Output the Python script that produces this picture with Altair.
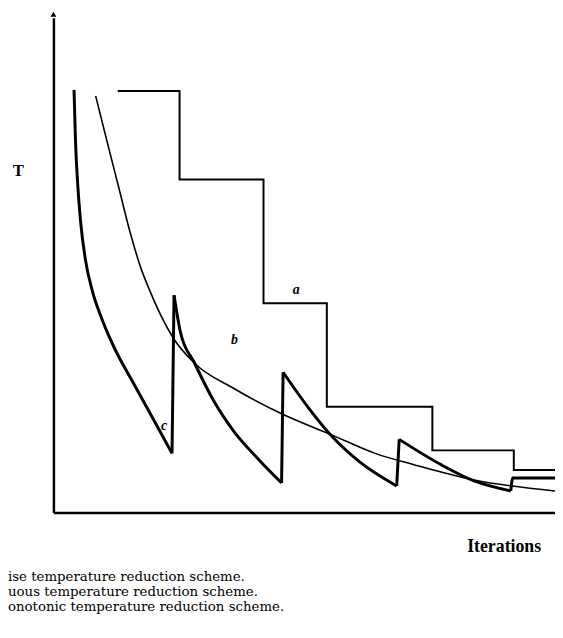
import altair as alt
import pandas as pd

# Curve a: stepwise temperature reduction
a_x = [12.8, 25.1, 41.8, 54.4, 75.4, 91.6, 99.8]
a_y = [84.2, 66.5, 41.8, 21.1, 12.4, 8.5, 8.5]

# Curve b: continuous temperature reduction
b_x = [8.4, 10.6, 13.0, 15.3, 17.3, 19.3, 21.4, 23.8, 28.1, 36.0, 45.4, 55.6, 64.0, 71.9, 83.7, 99.8]
b_y = [83.2, 74.4, 64.9, 55.8, 49.1, 44.0, 39.3, 34.9, 29.8, 24.7, 19.7, 15.4, 11.8, 9.5, 6.5, 4.3]

# Curve c: non-monotonic temperature reduction (segments)
c_x = [4.1, 4.4, 4.8, 5.4, 6.4, 7.7, 9.7, 12.3, 15.6, 19.5, 23.6,
       23.6, 24.0,
       24.0, 25.3, 28.0, 32.0, 35.9, 41.1, 45.4,
       45.4, 45.7,
       45.7, 50.9, 55.5, 60.8, 68.3,
       68.3, 68.8,
       68.8, 77.2, 83.7, 91.0,
       91.0, 91.4, 99.8]
c_y = [84.4, 74.0, 66.1, 58.2, 50.3, 44.4, 38.5, 32.5, 26.4, 19.3, 11.8,
       11.8, 43.4,
       43.4, 35.9, 30.0, 22.1, 16.2, 10.3, 5.9,
       5.9, 28.0,
       28.0, 20.7, 15.1, 10.2, 5.3,
       5.3, 14.6,
       14.6, 9.5, 6.3, 4.3,
       4.3, 6.9, 6.9]
c_seg = [1] * 11 + [2] * 2 + [3] * 7 + [4] * 2 + [5] * 5 + [6] * 2 + [7] * 4 + [8] * 3

# Curve labels
lab_text = ["a", "b", "c"]
lab_x = [48.3, 36.0, 22.0]
lab_y = [44.4, 34.5, 17.2]

caption = [
    "ise temperature reduction scheme.",
    "uous temperature reduction scheme.",
    "onotonic temperature reduction scheme.",
]

df_a = pd.DataFrame({"x": a_x, "y": a_y})
df_b = pd.DataFrame({"x": b_x, "y": b_y})
df_c = pd.DataFrame({"x": c_x, "y": c_y, "seg": c_seg})
df_lab = pd.DataFrame({"x": lab_x, "y": lab_y, "t": lab_text})
df_arrow = pd.DataFrame({"x": [0.0], "y": [99.5]})

xs = alt.Scale(domain=[0, 99.8], nice=False, zero=False)
ys = alt.Scale(domain=[0, 98.8], nice=False, zero=False)

x_axis = alt.Axis(
    title="Iterations", ticks=False, labels=False, grid=False,
    domainColor="black", domainWidth=2.5,
    titleFont="Liberation Serif", titleFontSize=18, titleFontWeight="bold",
    titleColor="black", titleX=456, titleY=35, titleAlign="center",
    titleBaseline="middle",
)
y_axis = alt.Axis(
    title="T", ticks=False, labels=False, grid=False,
    domainColor="black", domainWidth=2.5,
    titleFont="Liberation Serif", titleFontSize=17, titleFontWeight="bold",
    titleColor="black", titleAngle=0, titleX=-36, titleY=155,
    titleAlign="center", titleBaseline="middle",
)

line_a = alt.Chart(df_a).mark_line(
    interpolate="step-after", color="black", strokeWidth=2
).encode(
    x=alt.X("x:Q", scale=xs, axis=x_axis),
    y=alt.Y("y:Q", scale=ys, axis=y_axis),
)

line_b = alt.Chart(df_b).mark_line(
    interpolate="monotone", color="black", strokeWidth=1.6
).encode(x=alt.X("x:Q", scale=xs), y=alt.Y("y:Q", scale=ys))

line_c = alt.Chart(df_c).mark_line(
    interpolate="monotone", color="black", strokeWidth=3
).encode(
    x=alt.X("x:Q", scale=xs), y=alt.Y("y:Q", scale=ys), detail="seg:N"
)

labels = alt.Chart(df_lab).mark_text(
    font="Liberation Serif", fontSize=14, fontStyle="italic",
    fontWeight="bold", color="black",
).encode(x=alt.X("x:Q", scale=xs), y=alt.Y("y:Q", scale=ys), text="t:N")

arrow = alt.Chart(df_arrow).mark_point(
    shape="triangle-up", filled=True, size=35, color="black", opacity=1
).encode(x=alt.X("x:Q", scale=xs), y=alt.Y("y:Q", scale=ys))

chart = alt.layer(line_a, line_b, line_c, labels, arrow).properties(
    width=508,
    height=501,
    autosize=alt.AutoSizeParams(type="none"),
    padding={"left": 46, "top": 6, "right": 0, "bottom": 105},
    background="white",
    title=alt.Title(
        text=caption, orient="bottom", anchor="start", frame="group",
        dx=-46, offset=14,
        font="DejaVu Serif", fontSize=13.5, fontWeight="normal",
        lineHeight=15.5, color="black",
    ),
).configure_view(stroke=None)

chart.save("out.html", embed_options={"renderer": "svg", "actions": False})
